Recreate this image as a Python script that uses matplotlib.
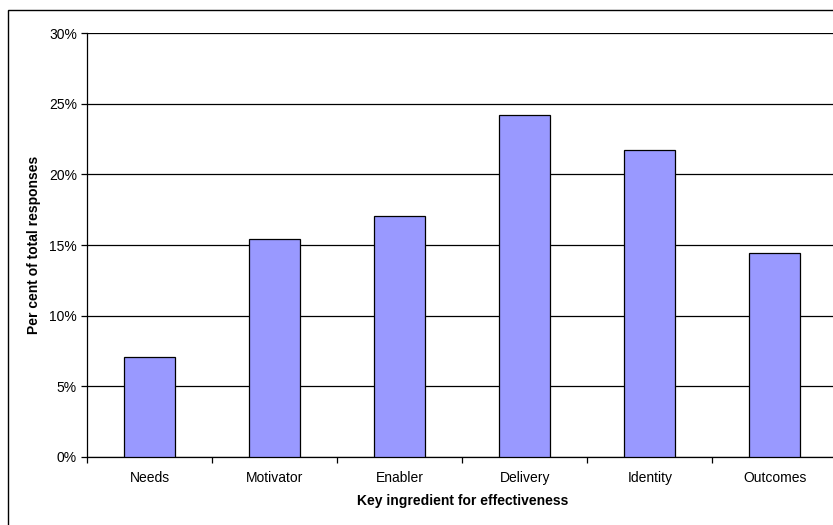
import matplotlib
matplotlib.use("Agg")
import matplotlib.pyplot as plt
from matplotlib.patches import Rectangle
from matplotlib.ticker import FixedLocator, PercentFormatter
import numpy as np

categories = ["Needs", "Motivator", "Enabler", "Delivery", "Identity", "Outcomes"]
shares = [7.05, 15.4, 17.05, 24.2, 21.75, 14.45]
y_ticks = [0, 5, 10, 15, 20, 25, 30]

plt.rcParams['font.family'] = ['Liberation Sans', 'DejaVu Sans']

W, H = 833, 525
fig = plt.figure(figsize=(W / 100, H / 100), dpi=100)

# plot area, in pixels: left 87, right 837 (runs past the edge), top 33, bottom 457
left, right, top, bottom = 87.3, 837.3, 33.3, 456.8
ax = fig.add_axes([left / W, 1 - bottom / H, (right - left) / W, (bottom - top) / H])

# outer chart frame, cut off at right and bottom
fig.patches.append(Rectangle((8 / W, -0.1), 1.1, 1 - 10 / H + 0.1,
                             transform=fig.transFigure, fill=False,
                             edgecolor='black', linewidth=1.0, clip_on=False))

x = np.arange(len(categories))
ax.bar(x, shares, width=0.405, color='#9999FF', edgecolor='black',
       linewidth=0.9, zorder=3)

ax.set_xlim(-0.5, len(categories) - 0.5)
ax.set_ylim(0, 30)
ax.set_yticks(y_ticks)
ax.yaxis.set_major_formatter(PercentFormatter(decimals=0))
ax.yaxis.grid(True, color='black', linewidth=0.9, zorder=1)

fs = 10
ax.set_xticks(x)
ax.set_xticklabels(categories)
ax.xaxis.set_minor_locator(FixedLocator(np.arange(len(categories) + 1) - 0.5))
ax.tick_params(axis='x', which='major', length=0, pad=10.5, labelsize=fs)
ax.tick_params(axis='x', which='minor', length=4.5, width=0.9, direction='out')
ax.tick_params(axis='y', length=4.5, width=0.9, direction='out', pad=3,
               labelsize=fs)

for side in ('top', 'right'):
    ax.spines[side].set_visible(False)
ax.spines['left'].set_linewidth(0.9)
ax.spines['bottom'].set_linewidth(0.9)

ax.set_ylabel("Per cent of total responses", fontsize=fs, fontweight='bold',
              labelpad=6)
ax.set_xlabel("Key ingredient for effectiveness", fontsize=fs,
              fontweight='bold', labelpad=6.5)

fig.savefig("out.png", dpi=100)
